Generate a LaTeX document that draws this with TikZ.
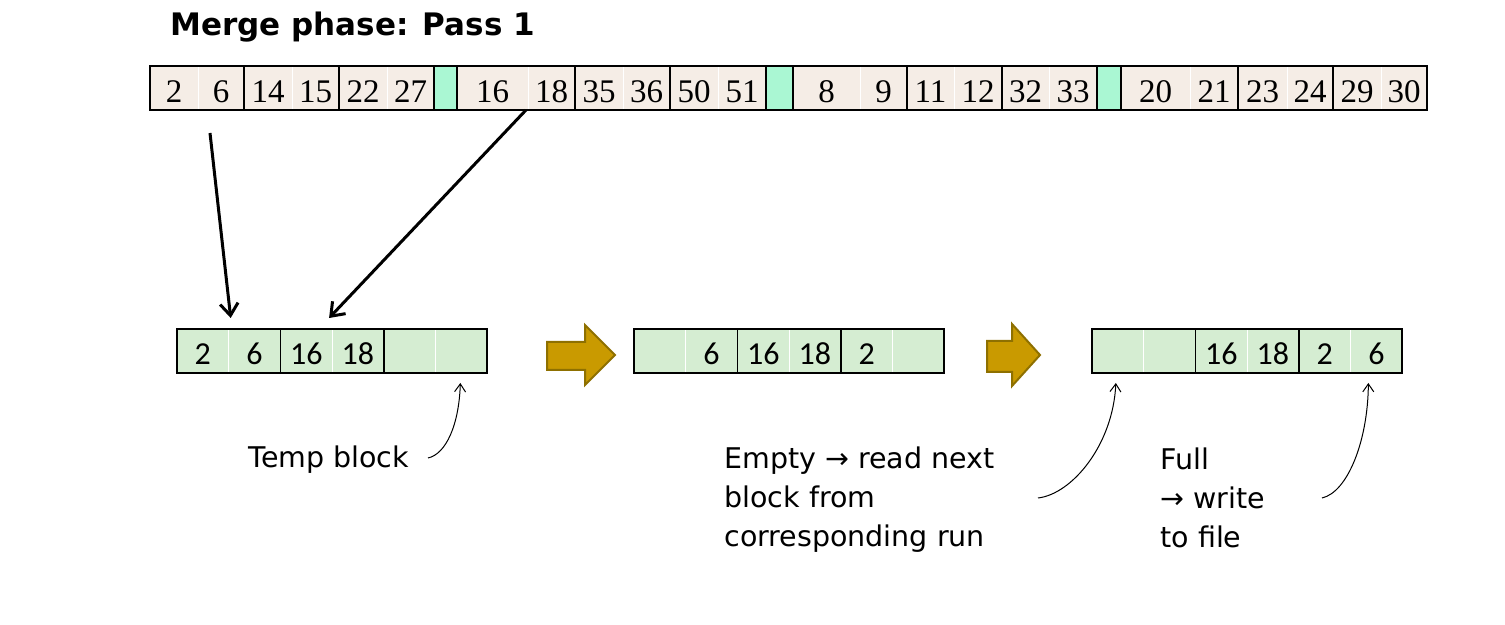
\documentclass[tikz,border=0pt]{standalone}
\usepackage{fontspec}
\newfontfamily\labelfont{DejaVu Sans}
\newfontfamily\runfont{Liberation Serif}
\newfontfamily\cellfont{Carlito}
\usetikzlibrary{arrows.meta}
\definecolor{runfill}{HTML}{F5EDE6}
\definecolor{sepfill}{HTML}{AAF7D3}
\definecolor{blkfill}{HTML}{D5EDD2}
\definecolor{goldfill}{HTML}{C99A00}
\definecolor{golddraw}{HTML}{8E7000}

\begin{document}
\begin{tikzpicture}[
    x=0.5pt, y=-0.5pt,
    topcell/.style={fill=runfill, draw=white, line width=0.5pt, outer sep=0pt,
                    minimum height=22pt, inner sep=0pt, text height=14.2pt, text depth=0pt,
                    font=\runfont\fontsize{16.5}{16.5}\selectfont},
    blkcell/.style={fill=blkfill, draw=white, line width=0.5pt, outer sep=0pt,
                    minimum width=25.85pt, minimum height=22pt, inner sep=0pt,
                    text height=13.1pt, text depth=0pt,
                    font=\cellfont\fontsize{16}{16}\selectfont},
    pageline/.style={draw=black, line width=0.75pt},
    sepbox/.style={fill=sepfill, draw=black, line width=0.75pt},
    bigarr/.style={-{Straight Barb[length=6pt,width=9pt]}, line width=1.5pt},
    thinarr/.style={-{Straight Barb[length=4pt,width=5.5pt]}, line width=0.5pt},
    goldarrow/.style={fill=goldfill, draw=golddraw, line width=1pt, line join=miter},
    lbl/.style={font=\labelfont\fontsize{14.25}{19.5}\selectfont, inner sep=0pt},
  ]
    \useasboundingbox (0,0) rectangle (1505,625);

    % Title
    \node[font=\labelfont\bfseries\fontsize{15.5}{15.5}\selectfont, anchor=base west, inner sep=0pt]
      (title) at (170,36) {Merge phase: Pass 1};

    % Sorted runs on disk
    \foreach \l/\r/\t [count=\n] in {
        150/198/2, 198/244/6, 244/292/14, 292/339/15, 339/387/22, 387/434/27,
        457/528/16, 528/575/18, 575/623/35, 623/670/36, 670/718/50, 718/766/51,
        793/860/8, 860/907/9, 907/954/11, 954/1002/12, 1002/1049/32, 1049/1097/33,
        1121/1190/20, 1190/1238/21, 1238/1287/23, 1287/1333/24, 1333/1381/29, 1381/1427/30}
      \node[topcell, minimum width={(\r-\l)*0.5pt}] (t\n) at ({(\l+\r)/2},88) {\t};
    \foreach \l/\r in {150/244, 244/339, 339/434, 457/575, 575/670, 670/766,
                       793/907, 907/1002, 1002/1097, 1121/1238, 1238/1333, 1333/1427}
      \draw[pageline] (\l,66) rectangle (\r,110);
    % run separators
    \foreach \l/\r in {434/457, 766/793, 1097/1121}
      \draw[sepbox] (\l,66) rectangle (\r,110);

    % Temp blocks in memory
    \foreach \t [count=\i] in {2,6,16,18,{},{}}
      \node[blkcell] (a\i) at ({177+25.85+51.7*(\i-1)},351) {\t};
    \foreach \t [count=\i] in {{},6,16,18,2,{}}
      \node[blkcell] (b\i) at ({634+25.85+51.7*(\i-1)},351) {\t};
    \foreach \t [count=\i] in {{},{},16,18,2,6}
      \node[blkcell] (c\i) at ({1092+25.85+51.7*(\i-1)},351) {\t};
    \foreach \blk in {a,b,c}
      \foreach \i/\j in {1/2,3/4,5/6}
        \draw[pageline] (\blk\i.north west) rectangle (\blk\j.south east);

    % Step arrows
    \draw[goldarrow] (547,342) -- (585,342) -- (585,325) -- (615,355)
      -- (585,385) -- (585,370) -- (547,370) -- cycle;
    \draw[goldarrow] (987,341) -- (1012,341) -- (1012,324) -- (1040,355)
      -- (1012,386) -- (1012,372) -- (987,372) -- cycle;

    % Reading the first block of each run
    \coordinate (run1from) at (210,133);
    \draw[bigarr] (run1from) -- ([shift={(1pt,5.5pt)}]a2.north west);
    \draw[bigarr] ([xshift=-1pt]t7.south east) -- ([shift={(-1.5pt,5.5pt)}]a4.north west);

    % Labels
    \node[lbl, anchor=base west] (tmplbl) at (248,468) {Temp block};
    \node[lbl, anchor=north west, align=left] (emptylbl) at (724,446)
      {Empty → read next\\block from\\corresponding run};
    \node[lbl, anchor=north west, align=left] (fulllbl) at (1160,447)
      {Full\\→ write\\to file};

    \coordinate (tmpfrom) at (428,458);
    \coordinate (emptyfrom) at (1038,498);
    \coordinate (fullfrom) at (1322,498);
    \draw[thinarr] (tmpfrom) .. controls (446,454) and (459,425) .. ([shift={(-0.5pt,-5pt)}]a6.south);
    \draw[thinarr] (emptyfrom) .. controls (1072,494) and (1113,445) .. ([shift={(-1pt,-5pt)}]c1.south);
    \draw[thinarr] (fullfrom) .. controls (1348,492) and (1368,440) .. ([shift={(-4pt,-5pt)}]c6.south);
\end{tikzpicture}
\end{document}
